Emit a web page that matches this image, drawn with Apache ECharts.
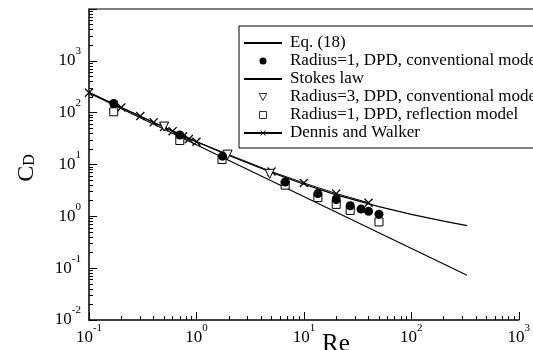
<!DOCTYPE html>
<html>
<head>
<meta charset="utf-8">
<script src="https://cdn.jsdelivr.net/npm/echarts@6/dist/echarts.min.js"></script>
<style>
html,body{margin:0;padding:0;background:#fff;}
#chart{width:533px;height:350px;}
</style>
</head>
<body>
<div id="chart"></div>
<script>
// ---- data ----
const reEq18 = [0.1, 0.2, 0.5, 1, 2, 5, 10, 20, 50, 100, 200, 330];
const cdEq18 = [247, 126, 52.5, 27.6, 14.9, 7.0, 4.15, 2.6, 1.54, 1.09, 0.81, 0.66];
const reStokes = [0.1, 330];
const cdStokes = [240, 0.073];
const reR1Conv = [0.17, 0.7, 1.75, 6.7, 13.5, 20, 27, 34, 40, 50];
const cdR1Conv = [150, 37, 14.5, 4.6, 2.75, 2.1, 1.6, 1.38, 1.25, 1.1];
const reR3Conv = [0.5, 1.95, 4.8];
const cdR3Conv = [54, 15.5, 6.6];
const reR1Refl = [0.17, 0.7, 1.73, 6.7, 13.5, 20, 27, 50];
const cdR1Refl = [104, 29, 12.5, 4.0, 2.3, 1.7, 1.3, 0.78];
const reDW = [0.1, 0.2, 0.3, 0.4, 0.5, 0.6, 0.75, 0.85, 1.0, 5, 10, 20, 40];
const cdDW = [243, 126, 86, 65, 53, 44, 35, 31, 27.5, 7.3, 4.4, 2.75, 1.83];

const seriesNames = ['Eq. (18)', 'Radius=1, DPD, conventional model', 'Stokes law',
  'Radius=3, DPD, conventional model', 'Radius=1, DPD, reflection model', 'Dennis and Walker'];

const xMajor = [0.1, 1, 10, 100, 1000];
const yMajor = [0.01, 0.1, 1, 10, 100, 1000, 10000];
const yLabelVals = [0.01, 0.1, 1, 10, 100, 1000];
const expOf = {0.01: '-2', 0.1: '-1', 1: '0', 10: '1', 100: '2', 1000: '3', 10000: '4'};

function minors(lo, hi) {
  const out = [];
  for (let k = lo; k < hi; k++) {
    for (let m = 2; m <= 9; m++) out.push(Number((m * Math.pow(10, k)).toPrecision(3)));
  }
  return out;
}
const xMinor = minors(-1, 3);
const yMinor = minors(-2, 4);

const pair = (xs, ys) => xs.map((x, i) => [x, ys[i]]);

const FONT = "'Liberation Serif', 'Times New Roman', serif";
const richLab = {
  b: {fontFamily: FONT, fontSize: 17, lineHeight: 30, color: '#000'},
  s: {fontFamily: FONT, fontSize: 11, lineHeight: 11, verticalAlign: 'top', color: '#000'}
};
const labFmt = v => '{b|10}{s|' + expOf[Number(v.toPrecision(3))] + '}';

const crossPath = 'path://M0,0.1L0.1,0L0.5,0.4L0.9,0L1,0.1L0.6,0.5L1,0.9L0.9,1L0.5,0.6L0.1,1L0,0.9L0.4,0.5Z';
const squarePath = 'path://M0,0H10V10H0Z';
const triDownPath = 'path://M0,0L10,0L5,9Z';

const chart = echarts.init(document.getElementById('chart'), null, {renderer: 'canvas'});
const axisLineStyle = {color: '#000', width: 1.5};
const hiddenSym = {color: 'rgba(0,0,0,0)', borderWidth: 0};
const openSym = {color: '#fff', borderColor: '#000', borderWidth: 0.8};

chart.setOption({
  animation: false,
  backgroundColor: '#fff',
  grid: {left: 89, right: 13, top: 9, bottom: 30},
  xAxis: [{
    type: 'log', logBase: 10, min: 0.1, max: 1000, position: 'bottom',
    axisLine: {show: true, lineStyle: axisLineStyle},
    axisTick: {show: true, inside: true, length: 8, lineStyle: {color: '#000', width: 1}, customValues: xMajor},
    axisLabel: {show: true, margin: 3, formatter: labFmt, rich: richLab, customValues: xMajor},
    splitLine: {show: false}, minorTick: {show: false}
  }, {
    type: 'log', logBase: 10, min: 0.1, max: 1000, position: 'bottom',
    axisLine: {show: false},
    axisTick: {show: true, inside: true, length: 4, lineStyle: {color: '#000', width: 1}, customValues: xMinor},
    axisLabel: {show: false}, splitLine: {show: false}
  }],
  yAxis: [{
    type: 'log', logBase: 10, min: 0.01, max: 10000, position: 'left',
    axisLine: {show: true, lineStyle: axisLineStyle},
    axisTick: {show: true, inside: true, length: 8, lineStyle: {color: '#000', width: 1}, customValues: yMajor},
    axisLabel: {show: true, margin: 8, formatter: labFmt, rich: richLab, customValues: yLabelVals},
    splitLine: {show: false}, minorTick: {show: false}
  }, {
    type: 'log', logBase: 10, min: 0.01, max: 10000, position: 'left',
    axisLine: {show: false},
    axisTick: {show: true, inside: true, length: 4, lineStyle: {color: '#000', width: 1}, customValues: yMinor},
    axisLabel: {show: false}, splitLine: {show: false}
  }],
  legend: {
    left: 239, top: 26, orient: 'vertical',
    data: [
      {name: seriesNames[0], itemStyle: hiddenSym},
      {name: seriesNames[1]},
      {name: seriesNames[2], itemStyle: hiddenSym},
      {name: seriesNames[3], itemStyle: openSym},
      {name: seriesNames[4], itemStyle: openSym},
      {name: seriesNames[5]}
    ],
    itemWidth: 38, itemHeight: 7, itemGap: 0,
    padding: [8, 12, 6, 4],
    backgroundColor: '#fff', borderColor: '#000', borderWidth: 1,
    textStyle: {fontFamily: FONT, fontSize: 17, color: '#000', lineHeight: 18, padding: [0, 0, 0, 3]}
  },
  graphic: [
    {type: 'line', shape: {x1: 89, y1: 9, x2: 533, y2: 9}, style: {stroke: '#000', lineWidth: 1.2}, z: 10},
    {type: 'text', x: 26.5, y: 168, rotation: Math.PI / 2,
      style: {text: '{c|C}{d|D}', align: 'center', verticalAlign: 'middle',
        rich: {c: {fontFamily: FONT, fontSize: 24, lineHeight: 22, color: '#000'},
               d: {fontFamily: FONT, fontSize: 16, lineHeight: 12, verticalAlign: 'bottom', color: '#000'}}}},
    {type: 'text', x: 336, y: 344,
      style: {text: 'Re', align: 'center', verticalAlign: 'middle', fontFamily: FONT, fontSize: 25, fill: '#000'}}
  ],
  series: [
    {name: seriesNames[0], type: 'line', xAxisIndex: 0, yAxisIndex: 0, data: pair(reEq18, cdEq18),
      symbol: 'none', lineStyle: {color: '#000', width: 1.2}, itemStyle: {color: '#000'}, z: 2},
    {name: seriesNames[2], type: 'line', xAxisIndex: 0, yAxisIndex: 0, data: pair(reStokes, cdStokes),
      symbol: 'none', lineStyle: {color: '#000', width: 1.2}, itemStyle: {color: '#000'}, z: 2},
    {name: seriesNames[5], type: 'line', xAxisIndex: 0, yAxisIndex: 0, data: pair(reDW, cdDW),
      symbol: crossPath, symbolSize: 9, showAllSymbol: true,
      lineStyle: {color: '#000', width: 1}, itemStyle: {color: '#000'}, z: 3},
    {name: seriesNames[4], type: 'scatter', xAxisIndex: 0, yAxisIndex: 0, data: pair(reR1Refl, cdR1Refl),
      symbol: squarePath, symbolSize: 8, itemStyle: {color: '#fff', borderColor: '#000', borderWidth: 1, opacity: 1}, z: 4},
    {name: seriesNames[3], type: 'scatter', xAxisIndex: 0, yAxisIndex: 0, data: pair(reR3Conv, cdR3Conv),
      symbol: triDownPath, symbolSize: 9, itemStyle: {color: '#fff', borderColor: '#000', borderWidth: 1, opacity: 1}, z: 4},
    {name: seriesNames[1], type: 'scatter', xAxisIndex: 0, yAxisIndex: 0, data: pair(reR1Conv, cdR1Conv),
      symbol: 'circle', symbolSize: 9, itemStyle: {color: '#000', opacity: 1}, z: 5}
  ]
});
</script>
</body>
</html>
